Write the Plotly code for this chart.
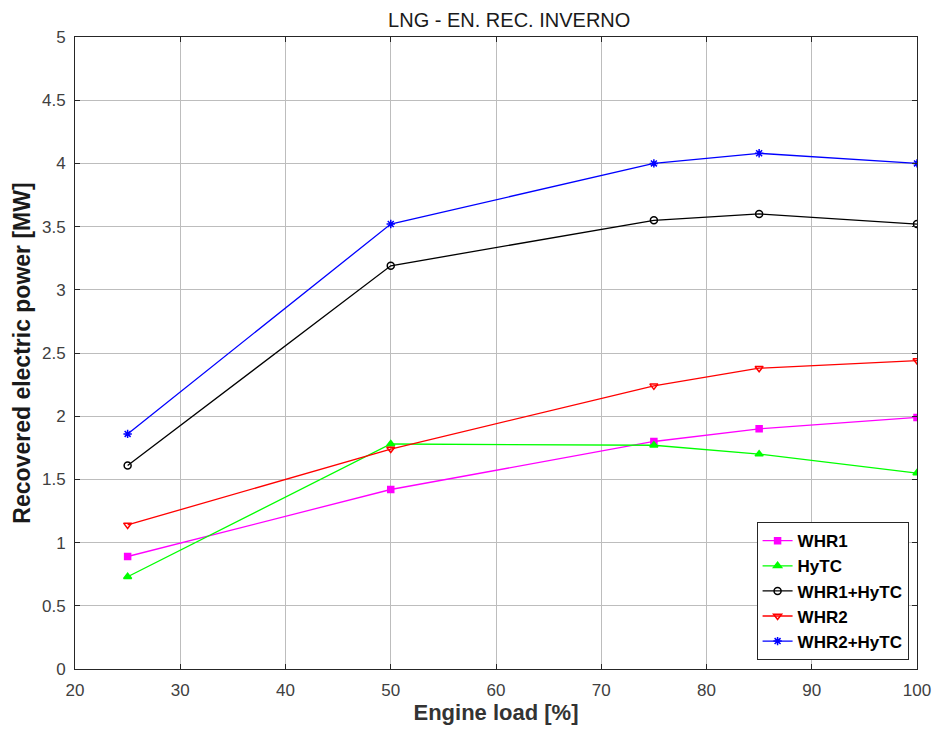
import plotly.graph_objects as go

engine_load = [25, 50, 75, 85, 100]
whr1 = [0.89, 1.42, 1.80, 1.90, 1.99]
hytc = [0.73, 1.78, 1.77, 1.70, 1.55]
whr1_hytc = [1.61, 3.19, 3.55, 3.60, 3.52]
whr2 = [1.14, 1.74, 2.24, 2.38, 2.44]
whr2_hytc = [1.86, 3.52, 4.00, 4.08, 4.00]

x_ticks = [20, 30, 40, 50, 60, 70, 80, 90, 100]
y_ticks = [0, 0.5, 1, 1.5, 2, 2.5, 3, 3.5, 4, 4.5, 5]
y_tick_text = ["0", "0.5", "1", "1.5", "2", "2.5", "3", "3.5", "4", "4.5", "5"]

series = [
    ("WHR1", whr1, "#ff00ff", "square", 6),
    ("HyTC", hytc, "#00ff00", "triangle-up", 7),
    ("WHR1+HyTC", whr1_hytc, "#000000", "circle-open", 7),
    ("WHR2", whr2, "#ff0000", "triangle-down-open", 7),
    ("WHR2+HyTC", whr2_hytc, "#0000ff", "asterisk-open", 7),
]

FONT = "Liberation Sans, Arial"

fig = go.Figure()
for name, vals, color, symbol, size in series:
    fig.add_trace(go.Scatter(
        x=engine_load, y=vals, name=name, mode="lines+markers",
        line=dict(color=color, width=1.3),
        marker=dict(symbol=symbol, size=size, color=color,
                    line=dict(color=color, width=1.5)),
    ))

axis_common = dict(
    showgrid=True, gridcolor="#bdbdbd", gridwidth=1,
    showline=True, linecolor="#262626", linewidth=1, mirror="ticks",
    ticks="inside", ticklen=5, tickcolor="#262626",
    tickfont=dict(family=FONT, size=17, color="#404040"),
    zeroline=False,
)

fig.update_layout(
    width=943, height=736,
    margin=dict(l=75, r=19, t=37, b=67),
    paper_bgcolor="white", plot_bgcolor="white",
    title=dict(text="LNG - EN. REC. INVERNO", x=0.54, xanchor="center",
               y=0.973, yanchor="middle",
               font=dict(family=FONT, size=20, color="#1a1a1a")),
    xaxis=dict(range=[20, 100], tickvals=x_ticks, ticklabelstandoff=6,
               title=dict(text="<b>Engine load [%]</b>", standoff=2,
                          font=dict(family=FONT, size=22, color="#333333")),
               **axis_common),
    yaxis=dict(range=[0, 5], tickvals=y_ticks, ticktext=y_tick_text,
               ticklabelstandoff=5,
               title=dict(text="<b>Recovered electric power [MW]</b>", standoff=4,
                          font=dict(family=FONT, size=23, color="#1a1a1a")),
               **axis_common),
    legend=dict(x=0.99, y=0.014, xanchor="right", yanchor="bottom",
                bgcolor="white", bordercolor="#262626", borderwidth=1,
                font=dict(family=FONT, size=17, color="#000000", weight="bold"),
                itemwidth=30, tracegroupgap=0),
    showlegend=True,
)

fig.write_html("out.html")
